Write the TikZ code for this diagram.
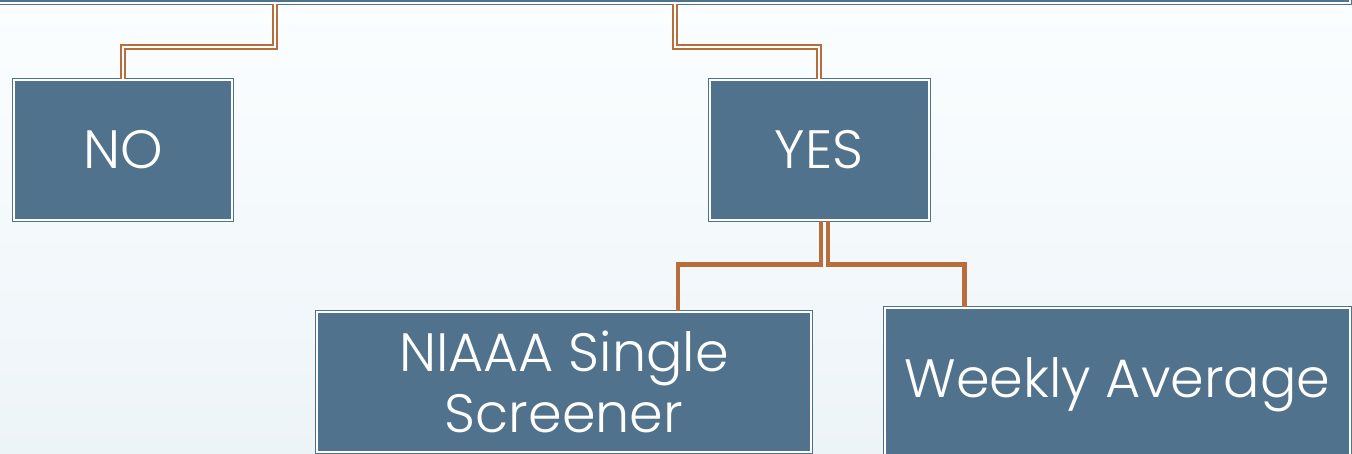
\documentclass[tikz,border=0pt]{standalone}
\usepackage{fontspec}
\IfFontExistsTF{Poppins Light}{\setmainfont{Poppins Light}}{\setmainfont{Poppins}}
\usetikzlibrary{calc}
\definecolor{boxblue}{RGB}{81,114,140}
\definecolor{linkbrown}{RGB}{184,110,60}
\definecolor{bgtop}{RGB}{251,254,255}
\definecolor{bgbottom}{RGB}{237,244,248}

\begin{document}
\begin{tikzpicture}[x=1pt, y=-1pt,
    chartbox/.style={rectangle, fill=boxblue, draw=white, line width=2pt,
      preaction={draw=boxblue, line width=4pt}, text=white,
      font=\fontsize{54}{61}\selectfont, align=center, inner sep=0pt},
    toplink/.style={draw=linkbrown, line width=1.8pt, double=white, double distance=1.6pt},
    lowlink/.style={draw=linkbrown, line width=4.5pt}]
        \clip (0,0) rectangle (1352,453);
        \shade[top color=bgtop, bottom color=bgbottom] (0,0) rectangle (1352,453);

        % boxes
        \node[chartbox, minimum width=1750pt, minimum height=200pt] (screen) at (475,-97) {};
        \node[chartbox, minimum width=218pt, minimum height=140pt] (no) at (123,150) {NO};
        \node[chartbox, minimum width=219pt, minimum height=140pt] (yes) at (819,150) {YES};
        \node[chartbox, minimum width=494pt, minimum height=140pt] (niaaa) at (564,382) {NIAAA Single\\Screener};
        \node[chartbox, minimum width=465pt, minimum height=154pt] (weekly) at (1117.5,385) {Weekly Average};

        \coordinate (noleg) at (275,0);
        \coordinate (yesleg) at (675,0);
        \coordinate (nleg) at (678,0);
        \coordinate (wleg) at (964.5,0);

        % connectors
        \draw[toplink] (screen.south -| noleg) -- ++(0,43) -| (no.north);
        \draw[toplink] (screen.south -| yesleg) -- ++(0,43) -| (yes.north);

        \draw[lowlink] ([xshift=2pt]yes.south) -- ++(0,43.5) -| (niaaa.north -| nleg);
        \draw[lowlink] ([xshift=9pt]yes.south) -- ++(0,43.5) -| (weekly.north -| wleg);
\end{tikzpicture}
\end{document}
